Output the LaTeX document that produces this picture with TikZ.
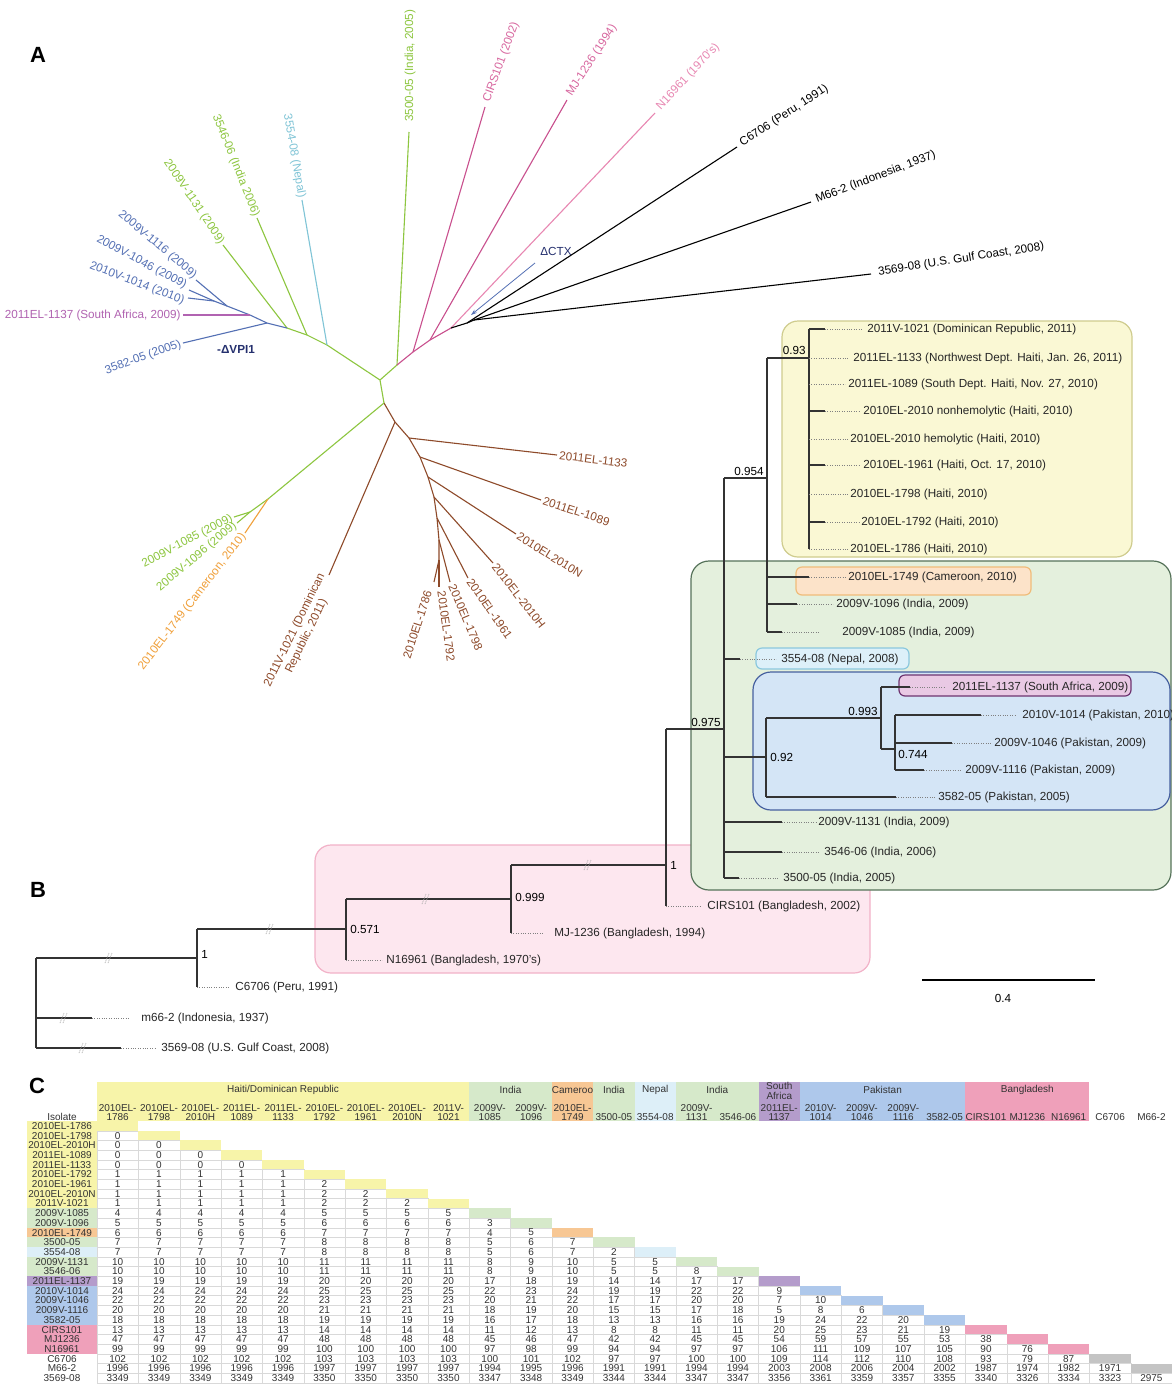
\documentclass[tikz,border=0pt]{standalone}
\usepackage{fontspec}
\setmainfont{Liberation Sans}
\usetikzlibrary{arrows.meta}
% panel A colours
\definecolor{cind}{HTML}{8DC63F}
\definecolor{cnep}{HTML}{7FC4D6}
\definecolor{cpak}{HTML}{5470B4}
\definecolor{csa}{HTML}{B163B1}
\definecolor{cbgd}{HTML}{C9508E}
\definecolor{cbgt}{HTML}{D8679F}
\definecolor{cbgl}{HTML}{E887B2}
\definecolor{chai}{HTML}{8E4A2A}
\definecolor{ccam}{HTML}{F0A03A}
\definecolor{cnavy}{HTML}{25306E}
% table colours
\definecolor{tyel}{HTML}{F7F4A9}
\definecolor{tgrn}{HTML}{D6E9CA}
\definecolor{torg}{HTML}{F7C794}
\definecolor{tnep}{HTML}{DDEFF8}
\definecolor{tsa}{HTML}{B49CCB}
\definecolor{tpak}{HTML}{AEC8EB}
\definecolor{tban}{HTML}{EFA0BA}
\definecolor{tgry}{HTML}{C4C4C4}
% panel B boxes
\definecolor{byelf}{HTML}{FAF8D4}\definecolor{byeld}{HTML}{CFCC8E}
\definecolor{bgrnf}{HTML}{E4F0DD}\definecolor{bgrnd}{HTML}{56735A}
\definecolor{borgf}{HTML}{FCE3C9}\definecolor{borgd}{HTML}{F0BC7A}
\definecolor{bnepf}{HTML}{DDF0F9}\definecolor{bnepd}{HTML}{8BC8DE}
\definecolor{bpakf}{HTML}{D4E5F6}\definecolor{bpakd}{HTML}{46609F}
\definecolor{bsaf}{HTML}{E9C9E4}\definecolor{bsad}{HTML}{6E3470}
\definecolor{bbanf}{HTML}{FDE7EF}\definecolor{bband}{HTML}{F2B2C8}

\newcommand\bleaf[6]{%
  \draw[tr] (#1,#4) -- (#2,#4);
  \draw[dl] (#2,#4) -- (#3,#4);
  \node[lab, anchor=west, text=black!85] at (#5,#4) {#6};}
\newcommand\hband[4]{%
  \fill[#3] ({97+#1*41.35},1082) rectangle ({97+#2*41.35},1121);
  \node[tabf] at ({97+(#1+#2)*41.35/2},1090) {#4};}

\begin{document}
\begin{tikzpicture}[x=0.5pt,y=-0.5pt,
  lab/.style={inner sep=1pt, font=\fontsize{5.85}{6.6}\selectfont},
  tabf/.style={inner sep=0pt, font=\fontsize{5}{4.6}\selectfont, text=black!80},
  brA/.style={line width=0.55pt},
  tr/.style={line width=0.75pt, draw=black!80},
  dl/.style={draw=gray, line width=0.35pt, dash pattern=on 0.5pt off 0.7pt},
  brk/.style={draw=gray!70, line width=0.3pt, dash pattern=on 0.6pt off 0.4pt},
  cellb/.style={draw=gray!30, line width=0.2pt},
  pan/.style={inner sep=0pt, font=\fontsize{11}{12}\selectfont\bfseries}]
\useasboundingbox (0,0) rectangle (1172,1388);
\fill[white] (0,0) rectangle (1172,1388);

%================ PANEL A =================
\node[pan] (pA) at (38,55) {A};
% internal nodes
\coordinate (N0) at (380,380);
\coordinate (N1) at (384,403);
\coordinate (L1) at (327,345);
\coordinate (L2) at (307,335);
\coordinate (L3) at (287,328);
\coordinate (Bk0) at (267,323);
\coordinate (BkSA) at (250,315);
\coordinate (Bk1) at (227,306);
\coordinate (Bk2) at (214,301);
\coordinate (R1) at (397,365);
\coordinate (R2) at (413,352);
\coordinate (R3) at (430,340);
\coordinate (R4) at (451,328);
\coordinate (R5) at (467,323);
\coordinate (R6) at (474,320);
\coordinate (D1) at (395,422);
\coordinate (D2) at (409,438);
\coordinate (D3) at (420,457);
\coordinate (D4) at (428,477);
\coordinate (D5) at (434,497);
\coordinate (D6) at (437,518);
\coordinate (D7) at (439,540);
\coordinate (D8) at (439,560);
\coordinate (G1) at (268,499);
\coordinate (G2) at (250,512);
% tips
\coordinate (t1116) at (196,280);
\coordinate (t1046) at (189,290);
\coordinate (t1014) at (188,298);
\coordinate (tSA) at (183,315);
\coordinate (t3582) at (183,343);
\coordinate (t1131) at (223,245);
\coordinate (t3546) at (257,218);
\coordinate (t3554) at (302,200);
\coordinate (t3500) at (409,132);
\coordinate (tCIRS) at (485,107);
\coordinate (tMJ) at (567,100);
\coordinate (tN169) at (655,113);
\coordinate (tC67) at (737,147);
\coordinate (tM66) at (811,202);
\coordinate (t3569) at (871,274);
\coordinate (t1133) at (557,455);
\coordinate (t1089) at (541,500);
\coordinate (t2010N) at (516,534);
\coordinate (t2010H) at (493,563);
\coordinate (t1961) at (468,578);
\coordinate (t1798) at (450,582);
\coordinate (t1792) at (439,587);
\coordinate (t1786) at (434,582);
\coordinate (t1021) at (329,575);
\coordinate (t1749) at (245,533);
\coordinate (t1096) at (237,523);
\coordinate (t1085) at (234,517);

% branches
\draw[brA, cind] (N1) -- (N0) -- (L1) -- (L2) -- (L3);
\draw[brA, cind] (L2) -- (t3546);
\draw[brA, cind] (L3) -- (t1131);
\draw[brA, cnep] (L1) -- (t3554);
\draw[brA, cpak] (L3) -- (Bk0) -- (BkSA) -- (Bk1) -- (Bk2);
\draw[brA, cpak] (Bk0) -- (t3582);
\draw[brA, cpak] (Bk1) -- (t1116);
\draw[brA, cpak] (Bk2) -- (t1046);
\draw[brA, cpak] (Bk2) -- (t1014);
\draw[brA, csa] (BkSA) -- (tSA);
\draw[brA, cind] (N0) -- (R1) -- (t3500);
\draw[brA, cbgd] (R1) -- (R2) -- (R3) -- (R4);
\draw[brA, cbgd] (R2) -- (tCIRS);
\draw[brA, cbgd] (R3) -- (tMJ);
\draw[brA, cbgl] (R4) -- (tN169);
\draw[brA, black] (R4) -- (R5) -- (R6);
\draw[brA, black] (R5) -- (tC67);
\draw[brA, black] (R6) -- (tM66);
\draw[brA, black] (R6) -- (t3569);
\draw[brA, chai] (N1) -- (D1) -- (D2) -- (D3) -- (D4) -- (D5) -- (D6) -- (D7) -- (D8);
\draw[brA, chai] (D1) -- (t1021);
\draw[brA, chai] (D2) -- (t1133);
\draw[brA, chai] (D3) -- (t1089);
\draw[brA, chai] (D4) -- (t2010N);
\draw[brA, chai] (D5) -- (t2010H);
\draw[brA, chai] (D6) -- (t1961);
\draw[brA, chai] (D7) -- (t1798);
\draw[brA, chai] (D8) -- (t1792);
\draw[brA, chai] (D8) -- (t1786);
\draw[brA, cind] (N1) -- (G1) -- (G2);
\draw[brA, cind] (G2) -- (t1085);
\draw[brA, cind] (G2) -- (t1096);
\draw[brA, ccam] (G1) -- (t1749);

% labels
\node[lab, text=cpak, rotate=-40, anchor=east] (l1116) at (197,278) {2009V-1116 (2009)};
\node[lab, text=cpak, rotate=-28, anchor=east] (l1046) at (188,287) {2009V-1046 (2009)};
\node[lab, text=cpak, rotate=-21, anchor=east] (l1014) at (186,302) {2010V-1014 (2010)};
\node[lab, text=csa, anchor=east] (lSA) at (tSA) {2011EL-1137 (South Africa, 2009)};
\node[lab, text=cpak, rotate=20, anchor=east] (l3582) at (t3582) {3582-05 (2005)};
\node[lab, text=cnavy, font=\fontsize{5.85}{6.6}\selectfont\bfseries] (lvpi) at (236,349) {-ΔVPI1};
\node[lab, text=cind, rotate=-56, anchor=east] (l1131) at (t1131) {2009V-1131 (2009)};
\node[lab, text=cind, rotate=-68, anchor=east] (l3546) at (t3546) {3546-06 (India 2006)};
\node[lab, text=cnep, rotate=-80, anchor=east] (l3554) at (t3554) {3554-08 (Nepal)};
\node[lab, text=cind, rotate=90, anchor=west] (l3500) at (410,124) {3500-05 (India, 2005)};
\node[lab, text=cbgt, rotate=70, anchor=west] (lCIRS) at (486,104) {CIRS101 (2002)};
\node[lab, text=cbgt, rotate=57, anchor=west] (lMJ) at (568,97) {MJ-1236 (1994)};
\node[lab, text=cbgl, rotate=47, anchor=west] (lN169) at (657,110) {N16961 (1970's)};
\node[lab, text=black, rotate=33, anchor=west] (lC67) at (739,145) {C6706 (Peru, 1991)};
\node[lab, text=black, rotate=21, anchor=west] (lM66) at (814,201) {M66-2 (Indonesia, 1937)};
\node[lab, text=black, rotate=9, anchor=west] (l3569) at (876,273) {3569-08 (U.S. Gulf Coast, 2008)};
\node[lab, text=cnavy] (lctx) at (556,251) {ΔCTX};
\coordinate (ctxs) at (535,263);
\coordinate (ctxe) at (471,315);
\draw[-{Stealth[length=3pt,width=2pt]}, draw=cpak, line width=0.4pt] (ctxs) -- (ctxe);
\node[lab, text=chai, rotate=-7, anchor=west] (l1133) at (t1133) {2011EL-1133};
\node[lab, text=chai, rotate=-18, anchor=west] (l1089) at (t1089) {2011EL-1089};
\node[lab, text=chai, rotate=-32, anchor=west] (l2010N) at (t2010N) {2010EL2010N};
\node[lab, text=chai, rotate=-52, anchor=west] (l2010H) at (t2010H) {2010EL-2010H};
\node[lab, text=chai, rotate=-55, anchor=west] (l1961) at (t1961) {2010EL-1961};
\node[lab, text=chai, rotate=-67, anchor=west] (l1798) at (451,583) {2010EL-1798};
\node[lab, text=chai, rotate=-82, anchor=west] (l1792) at (441,589) {2010EL-1792};
\node[lab, text=chai, rotate=72, anchor=east] (l1786) at (429,589) {2010EL-1786};
\node[lab, text=chai, rotate=64, anchor=east, align=center] (l1021) at (t1021) {2011V-1021 (Dominican\\Republic, 2011)};
\node[lab, text=ccam, rotate=52.5, anchor=east] (l1749) at (t1749) {2010EL-1749 (Cameroon, 2010)};
\node[lab, text=cind, rotate=40, anchor=east] (l1096) at (t1096) {2009V-1096 (2009)};
\node[lab, text=cind, rotate=27.5, anchor=east] (l1085) at (t1085) {2009V-1085 (2009)};

%================ PANEL B =================
\node[pan] (pB) at (38,890) {B};
% boxes
\draw[fill=bbanf, draw=bband, line width=0.6pt, rounded corners=8pt] (315,845) rectangle (870,973);
\draw[fill=bgrnf, draw=bgrnd, line width=0.6pt, rounded corners=9pt] (691,561) rectangle (1171,890);
\draw[fill=byelf, draw=byeld, line width=0.6pt, rounded corners=8pt] (782,321) rectangle (1132,557);
\draw[fill=borgf, draw=borgd, line width=0.6pt, rounded corners=3pt] (796,567) rectangle (1031,595);
\draw[fill=bnepf, draw=bnepd, line width=0.6pt, rounded corners=3pt] (756,648) rectangle (909,669);
\draw[fill=bpakf, draw=bpakd, line width=0.6pt, rounded corners=9pt] (753,672) rectangle (1170,810);
\draw[fill=bsaf, draw=bsad, line width=0.6pt, rounded corners=3pt] (899,675) rectangle (1131,696);

% Haiti clade
\draw[tr] (809,329) -- (809,549);
\draw[tr] (767,358) -- (809,358);
\bleaf{809}{825}{862}{329}{865}{2011V-1021 (Dominican Republic, 2011)}
\bleaf{809}{809}{849}{358}{851}{2011EL-1133 (Northwest Dept. Haiti, Jan. 26, 2011)}
\bleaf{809}{809}{845}{384}{846}{2011EL-1089 (South Dept. Haiti, Nov. 27, 2010)}
\bleaf{809}{825}{860}{411}{861}{2010EL-2010 nonhemolytic (Haiti, 2010)}
\bleaf{809}{809}{848}{439}{848}{2010EL-2010 hemolytic (Haiti, 2010)}
\bleaf{809}{825}{860}{465}{861}{2010EL-1961 (Haiti, Oct. 17, 2010)}
\bleaf{809}{809}{848}{494}{848}{2010EL-1798 (Haiti, 2010)}
\bleaf{809}{825}{859}{522}{859}{2010EL-1792 (Haiti, 2010)}
\bleaf{809}{809}{848}{549}{848}{2010EL-1786 (Haiti, 2010)}
\node[lab, anchor=south east] (b093) at (808,357) {0.93};
% 0.954
\draw[tr] (767,358) -- (767,632);
\draw[tr] (724,478) -- (767,478);
\node[lab, anchor=south east] (b0954) at (766,478) {0.954};
\bleaf{767}{809}{846}{577}{846}{2010EL-1749 (Cameroon, 2010)}
\bleaf{767}{797}{833}{604}{834}{2009V-1096 (India, 2009)}
\bleaf{767}{782}{820}{632}{840}{2009V-1085 (India, 2009)}
% 0.975
\draw[tr] (724,478) -- (724,878);
\draw[tr] (666,729) -- (724,729);
\node[lab, anchor=south east] (b0975) at (723,729) {0.975};
\bleaf{724}{740}{776}{659}{779}{3554-08 (Nepal, 2008)}
\draw[tr] (724,757) -- (766,757);
\draw[tr] (766,718) -- (766,797);
\node[lab, anchor=west] (b092) at (768,757) {0.92};
\draw[tr] (766,718) -- (881,718);
\draw[tr] (881,687) -- (881,749);
\node[lab, anchor=south east] (b0993) at (880,718) {0.993};
\bleaf{881}{910}{945}{687}{950}{2011EL-1137 (South Africa, 2009)}
\draw[tr] (881,749) -- (895,749);
\draw[tr] (895,715) -- (895,770);
\node[lab, anchor=west] (b0744) at (896,754) {0.744};
\bleaf{895}{981}{1016}{715}{1020}{2010V-1014 (Pakistan, 2010)}
\bleaf{895}{952}{991}{743}{992}{2009V-1046 (Pakistan, 2009)}
\bleaf{895}{924}{962}{770}{963}{2009V-1116 (Pakistan, 2009)}
\bleaf{766}{896}{935}{797}{936}{3582-05 (Pakistan, 2005)}
\bleaf{724}{782}{816}{822}{816}{2009V-1131 (India, 2009)}
\bleaf{724}{782}{820}{852}{822}{3546-06 (India, 2006)}
\bleaf{724}{739}{779}{878}{781}{3500-05 (India, 2005)}
% node 1
\draw[tr] (666,729) -- (666,906);
\draw[tr] (511,865) -- (666,865);
\node[lab, anchor=west] (b1a) at (668,865) {1};
\bleaf{666}{666}{701}{906}{705}{CIRS101 (Bangladesh, 2002)}
% 0.999
\draw[tr] (511,865) -- (511,933);
\draw[tr] (346,899) -- (511,899);
\node[lab, anchor=west] (b0999) at (513,897) {0.999};
\bleaf{511}{511}{544}{933}{552}{MJ-1236 (Bangladesh, 1994)}
% 0.571
\draw[tr] (346,899) -- (346,960);
\draw[tr] (197,929) -- (346,929);
\node[lab, anchor=west] (b0571) at (348,929) {0.571};
\bleaf{346}{346}{382}{960}{384}{N16961 (Bangladesh, 1970's)}
% 1 lower
\draw[tr] (197,929) -- (197,987);
\draw[tr] (36,958) -- (197,958);
\node[lab, anchor=west] (b1b) at (199,954) {1};
\bleaf{197}{197}{230}{987}{233}{C6706 (Peru, 1991)}
% root
\draw[tr] (36,958) -- (36,1048);
\bleaf{36}{92}{129}{1018}{139}{m66-2 (Indonesia, 1937)}
\bleaf{36}{121}{155}{1048}{159}{3569-08 (U.S. Gulf Coast, 2008)}
% break marks
\foreach \bx/\by in {109/958, 270/929, 426/899, 588/865, 64/1018, 83/1048}{
  \draw[brk] ({\bx-4},{\by+5}) -- ({\bx},{\by-5});
  \draw[brk] ({\bx-1},{\by+5}) -- ({\bx+3},{\by-5});
}
% scale bar
\coordinate (sb1) at (922,980);
\coordinate (sb2) at (1095,980);
\draw[line width=0.6pt] (sb1) -- (sb2);
\node[lab] (sbl) at (1003,998) {0.4};

%================ PANEL C =================
\node[pan] (pC) at (37,1086) {C};
\hband{0}{9}{tyel}{Haiti/Dominican Republic}
\hband{9}{11}{tgrn}{India}
\hband{11}{12}{torg}{Cameroo}
\hband{12}{13}{tgrn}{India}
\hband{13}{14}{tnep}{Nepal}
\hband{14}{16}{tgrn}{India}
\fill[tsa] ({97+16*41.35},1082) rectangle ({97+17*41.35},1121);
\node[tabf, align=center] at ({97+16.5*41.35},1091) {South\\[0.4pt]Africa};
\hband{17}{21}{tpak}{Pakistan}
\hband{21}{24}{tban}{Bangladesh}
\node[tabf, anchor=south] (iso) at (62,1121) {Isolate};
\foreach \t [count=\j from 0] in {{2010EL-\\1786},{2010EL-\\1798},{2010EL-\\2010H},{2011EL-\\1089},{2011EL-\\1133},{2010EL-\\1792},{2010EL-\\1961},{2010EL-\\2010N},{2011V-\\1021},{2009V-\\1085},{2009V-\\1096},{2010EL-\\1749},{3500-05},{3554-08},{2009V-\\1131},{3546-06},{2011EL-\\1137},{2010V-\\1014},{2009V-\\1046},{2009V-\\1116},{3582-05},{CIRS101},{MJ1236},{N16961},{C6706},{M66-2}}{
  \node[tabf, anchor=south, align=center, font=\fontsize{5}{4.5}\selectfont] at ({97+(\j+0.5)*41.35},1120.5) {\t};
}
% row 0
\fill[tyel] (27,1121) rectangle (97,{1121+9.7});
\node[tabf] at (62,{1121+0.5*9.7}) {2010EL-1786};
\fill[tyel] (97,1121) rectangle ({97+41.35},{1121+9.7});
% rows 1..26
\foreach \nm/\cl/\dg/\vals [count=\i] in {%
 2010EL-1798/tyel/tyel/{0},%
 2010EL-2010H/tyel/tyel/{0,0},%
 2011EL-1089/tyel/tyel/{0,0,0},%
 2011EL-1133/tyel/tyel/{0,0,0,0},%
 2010EL-1792/tyel/tyel/{1,1,1,1,1},%
 2010EL-1961/tyel/tyel/{1,1,1,1,1,2},%
 2010EL-2010N/tyel/tyel/{1,1,1,1,1,2,2},%
 2011V-1021/tyel/tyel/{1,1,1,1,1,2,2,2},%
 2009V-1085/tgrn/tgrn/{4,4,4,4,4,5,5,5,5},%
 2009V-1096/tgrn/tgrn/{5,5,5,5,5,6,6,6,6,3},%
 2010EL-1749/torg/torg/{6,6,6,6,6,7,7,7,7,4,5},%
 3500-05/tgrn/tgrn/{7,7,7,7,7,8,8,8,8,5,6,7},%
 3554-08/tnep/tnep/{7,7,7,7,7,8,8,8,8,5,6,7,2},%
 2009V-1131/tgrn/tgrn/{10,10,10,10,10,11,11,11,11,8,9,10,5,5},%
 3546-06/tgrn/tgrn/{10,10,10,10,10,11,11,11,11,8,9,10,5,5,8},%
 2011EL-1137/tsa/tsa/{19,19,19,19,19,20,20,20,20,17,18,19,14,14,17,17},%
 2010V-1014/tpak/tpak/{24,24,24,24,24,25,25,25,25,22,23,24,19,19,22,22,9},%
 2009V-1046/tpak/tpak/{22,22,22,22,22,23,23,23,23,20,21,22,17,17,20,20,7,10},%
 2009V-1116/tpak/tpak/{20,20,20,20,20,21,21,21,21,18,19,20,15,15,17,18,5,8,6},%
 3582-05/tpak/tpak/{18,18,18,18,18,19,19,19,19,16,17,18,13,13,16,16,19,24,22,20},%
 CIRS101/tban/tban/{13,13,13,13,13,14,14,14,14,11,12,13,8,8,11,11,20,25,23,21,19},%
 MJ1236/tban/tban/{47,47,47,47,47,48,48,48,48,45,46,47,42,42,45,45,54,59,57,55,53,38},%
 N16961/tban/tban/{99,99,99,99,99,100,100,100,100,97,98,99,94,94,97,97,106,111,109,107,105,90,76},%
 C6706/white/tgry/{102,102,102,102,102,103,103,103,103,100,101,102,97,97,100,100,109,114,112,110,108,93,79,87},%
 M66-2/white/tgry/{1996,1996,1996,1996,1996,1997,1997,1997,1997,1994,1995,1996,1991,1991,1994,1994,2003,2008,2006,2004,2002,1987,1974,1982,1971},%
 3569-08/white/white/{3349,3349,3349,3349,3349,3350,3350,3350,3350,3347,3348,3349,3344,3344,3347,3347,3356,3361,3359,3357,3355,3340,3326,3334,3323,2975}}{%
  \fill[\cl] (27,{1121+\i*9.7}) rectangle (97,{1121+(\i+1)*9.7});
  \node[tabf] at (62,{1121+(\i+0.5)*9.7}) {\nm};
  \foreach \v [count=\j from 0] in \vals {
    \draw[cellb] ({97+\j*41.35},{1121+\i*9.7}) rectangle ({97+(\j+1)*41.35},{1121+(\i+1)*9.7});
    \node[tabf] at ({97+(\j+0.5)*41.35},{1121+(\i+0.5)*9.7}) {\v};
  }
  \fill[\dg] ({97+\i*41.35},{1121+\i*9.7}) rectangle ({97+(\i+1)*41.35},{1121+(\i+1)*9.7});
}
\end{tikzpicture}
\end{document}
